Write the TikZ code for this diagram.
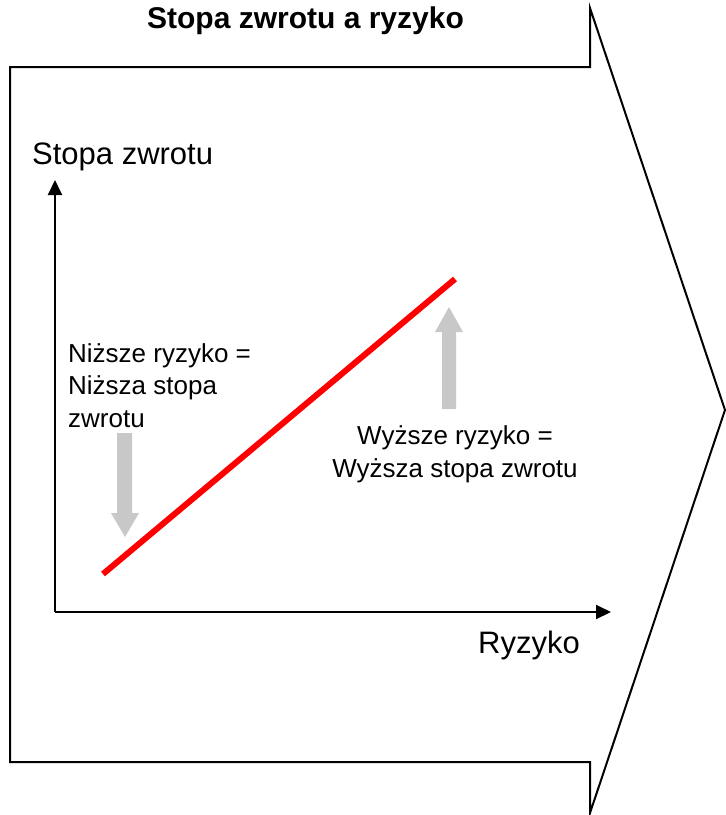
\documentclass[tikz,border=0pt]{standalone}
\usepackage{fontspec}
\setmainfont{Liberation Sans}
\usetikzlibrary{arrows.meta}
\definecolor{arrowgray}{RGB}{200,200,200}
\tikzset{
  outline/.style={draw=black, line width=2pt, line join=miter},
  axis/.style={draw=black, line width=2pt, -{Triangle[length=15pt,width=14pt]}},
  trend/.style={draw=red, line width=6pt},
  grayarrow/.style={fill=arrowgray, draw=none},
  lbl/.style={inner sep=0pt, anchor=base west},
}
\begin{document}
\begin{tikzpicture}[x=1pt,y=-1pt]
\useasboundingbox (0,0) rectangle (726,815);
% big arrow outline
\draw[outline] (10,67) -- (590,67) -- (590,8) -- (725,410) -- (590,813) -- (590,762) -- (10,762) -- cycle;
% title
\node[inner sep=0pt, anchor=base, font=\fontsize{30}{36}\selectfont\bfseries] (title) at (305.5,28) {Stopa zwrotu a ryzyko};
% axes
\coordinate (origin) at (55,612);
\coordinate (ytip) at (55,180);
\coordinate (xtip) at (611,612);
\draw[axis] (origin) -- (ytip);
\draw[axis] (origin) -- (xtip);
\node[lbl, font=\fontsize{31}{36}\selectfont] (ylabel) at (32,164) {Stopa zwrotu};
\node[lbl, font=\fontsize{31}{36}\selectfont] (xlabel) at (478,653) {Ryzyko};
% red line
\coordinate (lo) at (103,574);
\coordinate (hi) at (455,279);
\draw[trend] (lo) -- (hi);
% gray arrows
\fill[grayarrow] (117,433) -- (132,433) -- (132,513) -- (139,513) -- (125,537) -- (111,513) -- (117,513) -- cycle;
\fill[grayarrow] (442,409) -- (456,409) -- (456,332) -- (463,332) -- (449,307) -- (435,332) -- (442,332) -- cycle;
% annotations
\node[lbl, align=left, font=\fontsize{26}{32.5}\selectfont] (lowtext) at (68,427) {Niższe ryzyko =\\Niższa stopa\\zwrotu};
\node[inner sep=0pt, anchor=base, align=center, font=\fontsize{26}{33}\selectfont] (hightext) at (455,477) {Wyższe ryzyko =\\Wyższa stopa zwrotu};
\end{tikzpicture}
\end{document}
